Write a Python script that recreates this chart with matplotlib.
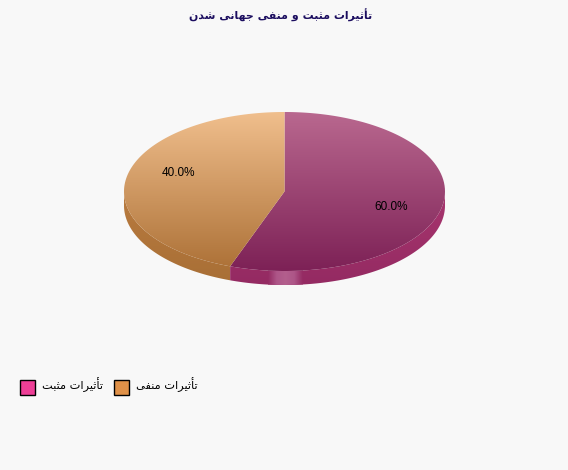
import numpy as np
import matplotlib
matplotlib.use("Agg")
import matplotlib.pyplot as plt
from matplotlib.colors import LinearSegmentedColormap
from matplotlib.patches import Polygon, Rectangle

TITLE = "تأثیرات مثبت و منفی جهانی شدن"
LABELS = ["تأثیرات مثبت", "تأثیرات منفی"]
VALUES = [60.0, 40.0]
PCT_TEXT = ["60.0%", "40.0%"]
LEGEND_COLORS = ["#ee3f97", "#e09148"]

# pixel geometry of the pie
CX, CY, RX, RY, DEPTH = 284.5, 191.5, 160.5, 79.5, 14
BG = "#f8f8f8"

# isolated, final, initial, medial (matplotlib has no arabic shaping)
FORMS = {
    "ا": "\ufe8d\ufe8e", "أ": "\ufe83\ufe84", "د": "\ufea9\ufeaa",
    "ر": "\ufead\ufeae", "و": "\ufeed\ufeee",
    "ت": "\ufe95\ufe96\ufe97\ufe98", "ث": "\ufe99\ufe9a\ufe9b\ufe9c",
    "ب": "\ufe8f\ufe90\ufe91\ufe92", "ج": "\ufe9d\ufe9e\ufe9f\ufea0",
    "ش": "\ufeb5\ufeb6\ufeb7\ufeb8", "ف": "\ufed1\ufed2\ufed3\ufed4",
    "م": "\ufee1\ufee2\ufee3\ufee4", "ن": "\ufee5\ufee6\ufee7\ufee8",
    "ه": "\ufee9\ufeea\ufeeb\ufeec", "ی": "\ufbfc\ufbfd\ufbfe\ufbff",
}


def shape(s):
    out = []
    for i, c in enumerate(s):
        f = FORMS.get(c)
        if f is None:
            out.append(c)
            continue
        prev = s[i - 1] if i > 0 else " "
        nxt = s[i + 1] if i + 1 < len(s) else " "
        before = prev in FORMS and len(FORMS[prev]) == 4
        after = nxt in FORMS and len(f) == 4
        if before and after:
            out.append(f[3])
        elif after:
            out.append(f[2])
        elif before:
            out.append(f[1])
        else:
            out.append(f[0])
    return "".join(out)[::-1]


def rim(a0, a1, n=200):
    # a = screen angle clockwise from 12 o'clock, in degrees
    a = np.radians(np.linspace(a0, a1, n))
    dx, dy = np.sin(a), -np.cos(a)
    r = 1.0 / np.sqrt((dx / RX) ** 2 + (dy / RY) ** 2)
    return CX + r * dx, CY + r * dy


def gradient(ax, verts, extent, cols, horizontal=False):
    cm = LinearSegmentedColormap.from_list("g", cols)
    g = np.linspace(0, 1, 256)
    g = g[None, :] if horizontal else g[:, None]
    im = ax.imshow(g, cmap=cm, extent=extent, aspect="auto", zorder=2,
                   interpolation="bilinear")
    im.set_clip_path(Polygon(verts, closed=True, transform=ax.transData))


fig = plt.figure(figsize=(5.68, 4.70), dpi=100, facecolor=BG)
ax = fig.add_axes([0, 0, 1, 1])
ax.axis("off")

split = 360.0 * VALUES[0] / sum(VALUES)
top = CY - RY
bot = CY + RY

# side wall first
x, y = rim(split, 270)
side = np.r_[np.c_[x, y], np.c_[x, y + DEPTH][::-1]]
gradient(ax, side, (CX - RX, CX + RX, bot + DEPTH, CY), ["#b97b3f", "#a86f36"])
x, y = rim(90, split)
side = np.r_[np.c_[x, y], np.c_[x, y + DEPTH][::-1]]
gradient(ax, side, (CX - RX, CX + RX, bot + DEPTH, CY), ["#a8366f", "#942a62"])
# glossy patch on the front of the wall
gradient(ax, side, (268, 303, bot + DEPTH, bot - 3),
         ["#942a62", "#ad5688", "#b35f8d", "#ad5688", "#942a62"], horizontal=True)

# top faces
x, y = rim(0, split)
gradient(ax, np.r_[[[CX, CY]], np.c_[x, y]], (CX - RX, CX + RX, bot, top),
         ["#b9688f", "#7d2156"])
x, y = rim(split, 360)
gradient(ax, np.r_[[[CX, CY]], np.c_[x, y]], (CX - RX, CX + RX, bot, top),
         ["#f0bf8d", "#ac7036"])

ax.text(391, 207, PCT_TEXT[0], fontsize=8.5, family="Liberation Sans",
        ha="center", va="center", color="black", zorder=3)
ax.text(178, 173, PCT_TEXT[1], fontsize=8.5, family="Liberation Sans",
        ha="center", va="center", color="black", zorder=3)

ax.text(281, 15, shape(TITLE), fontsize=7.9, fontweight="bold", family="DejaVu Sans",
        ha="center", va="center", color="#1b0d5f")

# legend
for bx, tx, col, lab in zip((20, 114), (72.5, 166.5), LEGEND_COLORS, LABELS):
    ax.add_patch(Rectangle((bx, 380), 15, 15, facecolor=col, edgecolor="black", lw=1))
    ax.text(tx, 385, shape(lab), fontsize=8.2, family="DejaVu Sans",
            ha="center", va="center", color="black")

ax.set_xlim(0, 568)
ax.set_ylim(470, 0)
fig.savefig("out.png", dpi=100, facecolor=BG)
